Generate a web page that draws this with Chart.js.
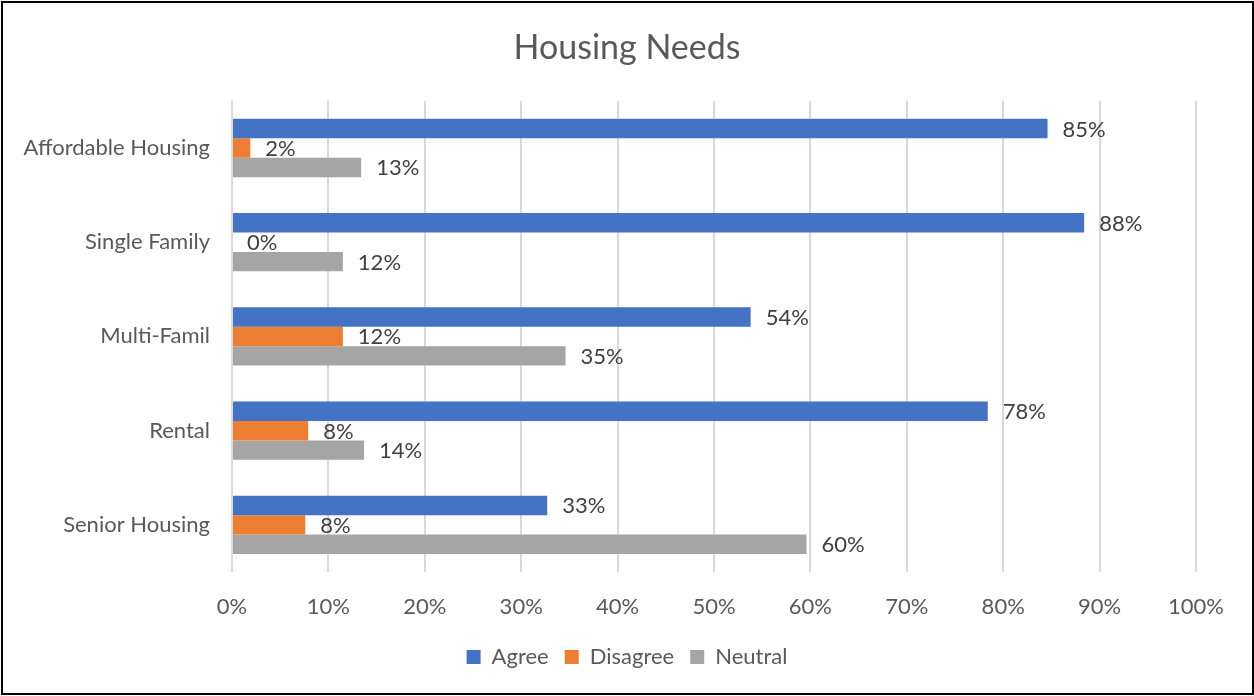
<!DOCTYPE html>
<html>
<head>
<meta charset="utf-8">
<script src="https://cdn.jsdelivr.net/npm/chart.js@4.4.1/dist/chart.umd.min.js"></script>
<style>
  html, body { margin: 0; padding: 0; background: #ffffff; }
  #wrap { width: 1254px; height: 696px; }
</style>
</head>
<body>
<div id="wrap"><canvas id="chart" width="1254" height="696"></canvas></div>
<script>
// Survey categories and the share of responses per answer (percent)
const categories = ['Affordable Housing', 'Single Family', 'Multi-Famil', 'Rental', 'Senior Housing'];
const agree    = [84.6, 88.4, 53.8, 78.4, 32.7];
const disagree = [1.9, 0, 11.5, 7.9, 7.6];
const neutral  = [13.4, 11.5, 34.6, 13.7, 59.6];
const seriesNames = ['Agree', 'Disagree', 'Neutral'];
const xTicks = [0, 10, 20, 30, 40, 50, 60, 70, 80, 90, 100];

const FONT = 'Lato, "Open Sans", sans-serif';

// White background plus the thin black frame round the whole chart
const framePlugin = {
  id: 'frame',
  beforeDraw(chart) {
    const ctx = chart.ctx;
    ctx.save();
    ctx.fillStyle = '#ffffff';
    ctx.fillRect(0, 0, chart.width, chart.height);
    ctx.strokeStyle = '#000000';
    ctx.lineWidth = 2;
    ctx.strokeRect(2, 2, chart.width - 3, chart.height - 4);
    ctx.restore();
  }
};

// Percentage labels just past the end of each bar
const valueLabels = {
  id: 'valueLabels',
  afterDatasetsDraw(chart) {
    const ctx = chart.ctx;
    ctx.save();
    ctx.font = '22px ' + FONT;
    ctx.fillStyle = '#404040';
    ctx.textAlign = 'left';
    ctx.textBaseline = 'middle';
    chart.data.datasets.forEach((ds, di) => {
      const meta = chart.getDatasetMeta(di);
      meta.data.forEach((bar, i) => {
        const v = ds.data[i];
        ctx.fillText(Math.round(v) + '%', bar.x + 15, bar.y + 1);
      });
    });
    ctx.restore();
  }
};

new Chart(document.getElementById('chart'), {
  type: 'bar',
  data: {
    labels: categories,
    datasets: [
      { label: seriesNames[0], data: agree,    backgroundColor: '#4472C4' },
      { label: seriesNames[1], data: disagree, backgroundColor: '#ED7D31' },
      { label: seriesNames[2], data: neutral,  backgroundColor: '#A5A5A5' }
    ]
  },
  options: {
    indexAxis: 'y',
    responsive: false,
    devicePixelRatio: 1,
    animation: false,
    datasets: {
      bar: { categoryPercentage: 0.62, barPercentage: 1.0, borderWidth: 0 }
    },
    layout: { padding: { left: 0, right: 0, top: 0, bottom: 18 } },
    scales: {
      x: {
        min: 0,
        max: 100,
        afterBuildTicks(scale) { scale.ticks = xTicks.map(v => ({ value: v })); },
        afterFit(scale) {
          scale.height = 58;
          // keep the plot clear of the right edge while title and legend stay centred on the canvas
          scale.paddingRight = 58;
        },
        grid: { color: '#d9d9d9', lineWidth: 2, drawTicks: false },
        border: { display: false },
        ticks: {
          padding: 22,
          color: '#595959',
          font: { family: FONT, size: 22 },
          callback: v => v + '%'
        }
      },
      y: {
        afterFit(scale) { scale.width = 232; },
        grid: { display: false, drawTicks: false },
        border: { display: false },
        ticks: {
          padding: 22,
          color: '#595959',
          font: { family: FONT, size: 22 }
        }
      }
    },
    plugins: {
      title: {
        display: true,
        text: 'Housing Needs',
        color: '#595959',
        font: { family: FONT, size: 34, weight: 'normal' },
        padding: { top: 28, bottom: 32 }
      },
      legend: {
        position: 'bottom',
        labels: {
          boxWidth: 14,
          boxHeight: 14,
          padding: 16,
          color: '#595959',
          font: { family: FONT, size: 22 }
        }
      },
      tooltip: { enabled: false }
    }
  },
  plugins: [framePlugin, valueLabels]
});
</script>
</body>
</html>
